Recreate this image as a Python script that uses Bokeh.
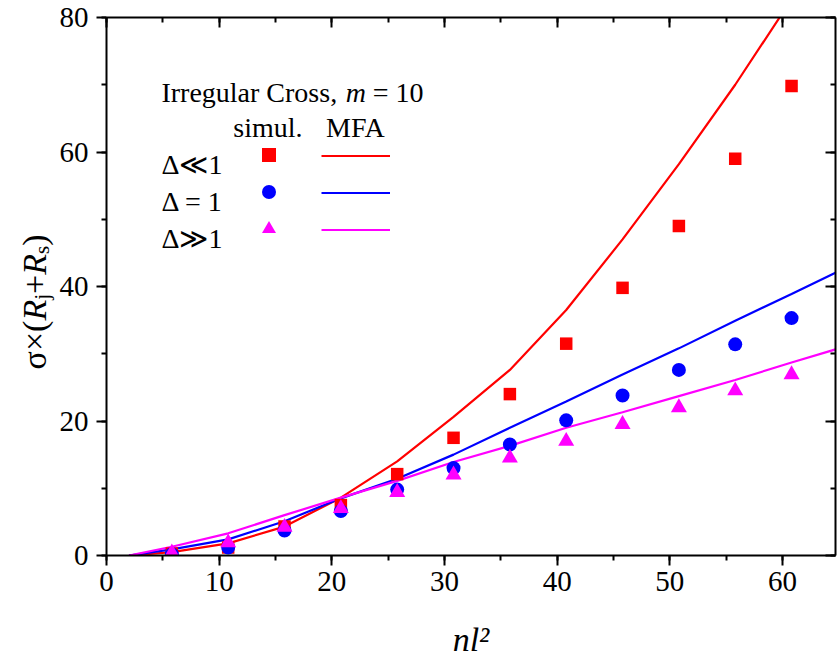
from bokeh.plotting import figure
from bokeh.layouts import row
from bokeh.models import (LinearAxis, Label, Legend, LegendItem, Range1d, Grid,
                          SingleIntervalTicker, CustomLabelingPolicy)
from bokeh.embed import file_html
from bokeh.resources import INLINE

# ---------------- data ----------------
sim_x = [5.8, 10.8, 15.8, 20.8, 25.8, 30.8, 35.8, 40.8, 45.8, 50.8, 55.8, 60.8]
sim_small = [0.3, 1.2, 4.3, 7.5, 12.1, 17.5, 24.0, 31.5, 39.8, 49.0, 59.0, 69.8]   # Δ ≪ 1
sim_equal = [0.2, 1.2, 3.7, 6.6, 9.8, 13.0, 16.5, 20.1, 23.8, 27.6, 31.4, 35.3]    # Δ = 1
sim_large = [0.4, 1.9, 4.2, 7.0, 9.4, 12.0, 14.5, 17.0, 19.5, 22.0, 24.5, 26.9]    # Δ ≫ 1

mfa_x = [2.0, 5.8, 10.8, 15.8, 20.8, 25.8, 30.8, 35.8, 40.8, 45.8, 50.8, 55.8, 60.8, 65.0]
mfa_small = [0.0, 0.5, 1.8, 4.3, 8.6, 14.0, 20.6, 27.6, 36.5, 47.0, 58.2, 70.0, 82.7, 93.0]
mfa_equal = [0.0, 0.9, 2.4, 5.1, 8.5, 11.4, 15.0, 19.0, 22.9, 26.9, 30.8, 34.9, 38.9, 42.3]
mfa_large = [0.0, 1.3, 3.3, 6.0, 8.6, 11.1, 13.9, 16.3, 19.0, 21.3, 23.7, 26.1, 28.7, 30.8]

x_tick_step = 10
y_tick_step = 20
series_labels = ["Δ≪1", "Δ = 1", "Δ≫1"]

# ---------------- layout / style ----------------
FONT = "Liberation Serif"
RED, BLUE, MAG = "#FF0000", "#0000FF", "#FF00FF"
X0, X1, Y0, Y1 = 0, 64.7, 0, 80
H = 661
LW = 56                     # width of the strip holding the y-axis title
W = 839 - LW
BL, BR, BT, BB = 104 - LW, 1, 17, H - 555
FW, FH = W - BL - BR, H - BT - BB


def dx(px):
    return X0 + (px - LW - BL) / FW * (X1 - X0)


def dy(py):
    return Y0 + ((H - BB) - py) / FH * (Y1 - Y0)


p = figure(width=W, height=H, x_range=Range1d(X0, X1), y_range=Range1d(Y0, Y1),
           output_backend="svg", toolbar_location=None,
           min_border_left=BL, min_border_right=BR, min_border_top=BT,
           min_border_bottom=BB, outline_line_color=None)
p.grid.visible = False
p.background_fill_color = "white"
p.border_fill_color = "white"

p.xaxis.ticker = SingleIntervalTicker(interval=x_tick_step, num_minor_ticks=2)
p.yaxis.ticker = SingleIntervalTicker(interval=y_tick_step, num_minor_ticks=2)

for ax in (p.xaxis[0], p.yaxis[0]):
    ax.axis_line_width = 2
    ax.major_tick_line_width = 2
    ax.minor_tick_line_width = 2
    ax.major_tick_out = 10
    ax.major_tick_in = 0
    ax.minor_tick_out = 5
    ax.minor_tick_in = 0
    ax.major_label_text_font = FONT
    ax.major_label_text_font_size = "29px"
    ax.major_label_text_color = "black"

p.yaxis.major_label_standoff = 8
p.xaxis.major_label_standoff = 6
p.xaxis.axis_label = "nl²"
p.xaxis.axis_label_text_font = FONT
p.xaxis.axis_label_text_font_size = "34px"
p.xaxis.axis_label_text_font_style = "italic"
p.xaxis.axis_label_text_color = "black"
p.xaxis.axis_label_standoff = 27

hide_all = CustomLabelingPolicy(code="""
    for (let i = 0; i < indices.size; i++) { indices.set(i, false) }
    return indices
""")
for loc, step in (("above", x_tick_step), ("right", y_tick_step)):
    ax = LinearAxis(ticker=SingleIntervalTicker(interval=step, num_minor_ticks=2),
                    major_label_text_font_size="1px", major_label_standoff=0,
                    major_label_policy=hide_all,
                    axis_line_width=2, major_tick_line_width=2, minor_tick_line_width=2,
                    major_tick_in=10, major_tick_out=0, minor_tick_in=5, minor_tick_out=0)
    p.add_layout(ax, loc)

# MFA lines
l_small = p.line(mfa_x, mfa_small, line_color=RED, line_width=2.2)
l_equal = p.line(mfa_x, mfa_equal, line_color=BLUE, line_width=2.2)
l_large = p.line(mfa_x, mfa_large, line_color=MAG, line_width=2.2)

# simulation points
s_small = p.scatter(sim_x, sim_small, marker="square", size=12.5, fill_color=RED, line_color=None)
s_equal = p.scatter(sim_x, sim_equal, marker="circle", size=14, fill_color=BLUE, line_color=None)
s_large = p.scatter(sim_x, sim_large, marker="triangle", size=16, fill_color=MAG, line_color=None)

# legends (markers column and lines column); their labels are blank
NB = "\u00a0"
common = dict(spacing=2, padding=0, margin=0, label_standoff=0, label_width=0,
              label_text_font=FONT, label_text_font_size="13px",
              border_line_color=None, background_fill_alpha=0, glyph_height=35)
leg_m = Legend(items=[LegendItem(label=NB, renderers=[r]) for r in (s_small, s_equal, s_large)],
               location=(144.5, 309.5), glyph_width=35, **common)
leg_l = Legend(items=[LegendItem(label=NB, renderers=[r]) for r in (l_small, l_equal, l_large)],
               location=(215, 308.5), glyph_width=69, **common)
p.add_layout(leg_m)
p.add_layout(leg_l)


def add_text(txt, px, py, size=28, style="normal"):
    p.add_layout(Label(x=dx(px), y=dy(py), text=txt, text_font=FONT,
                       text_font_size=f"{size}px", text_font_style=style,
                       text_color="black", text_align="left",
                       text_baseline="alphabetic"))


add_text("Irregular Cross,", 159.3, 92.3)
add_text("m", 345, 92.3, style="italic")
add_text("= 10", 372, 92.3)
add_text("simul.", 231.7, 126.5)
add_text("MFA", 325, 126.5)
for lab, py in zip(series_labels, (164, 201, 238)):
    add_text(lab, 159.3, py)

# y-axis title strip, composed: σ×(R_j+R_s)
pl = figure(frame_width=LW, frame_height=H, x_range=Range1d(0, LW), y_range=Range1d(0, H),
            output_backend="svg", toolbar_location=None, min_border=0, title=None,
            x_axis_location=None, y_axis_location=None, outline_line_color=None)
for g in pl.select(type=Grid):
    g.visible = False
pl.background_fill_color = "white"
pl.border_fill_color = "white"
ylab_parts = [("σ", 34, "normal", 0, 18.4), ("×", 34, "normal", 0, 19.2),
              ("(", 34, "normal", 0, 11.3), ("R", 34, "italic", 0, 20.8),
              ("j", 21, "normal", 7, 5.8), ("+", 34, "normal", 0, 19.2),
              ("R", 34, "italic", 0, 20.8), ("s", 21, "normal", 7, 8.2),
              (")", 34, "normal", 0, 11.3)]
total = sum(part[4] for part in ylab_parts)
cur = 284.5 + total / 2
for txt, fs, style, shift, w in ylab_parts:
    pl.add_layout(Label(x=34 + shift, y=H - (cur - w / 2), text=txt, text_font=FONT,
                        text_font_size=f"{fs}px", text_font_style=style,
                        text_color="black", text_align="center",
                        text_baseline="alphabetic", angle=90, angle_units="deg"))
    cur -= w

layout = row(pl, p)
open("out.html", "w").write(file_html(layout, INLINE))
